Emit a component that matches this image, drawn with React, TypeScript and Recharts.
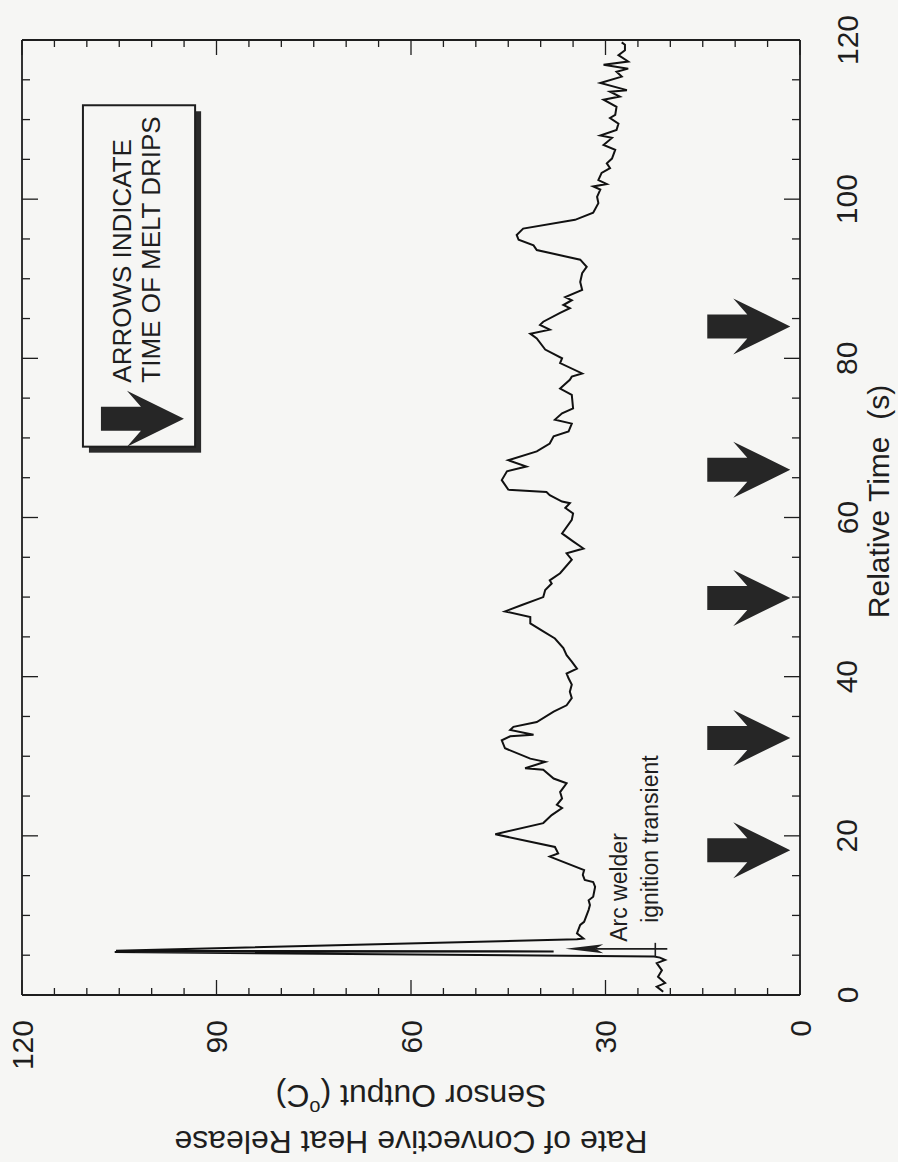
import React from "react";
import { LineChart, Line, XAxis, YAxis, ReferenceDot, ReferenceArea } from "recharts";

// time (s) and sensor output (°C)
const TIME = [
  0.4, 1.05, 1.5, 2.3, 3.1, 4.0, 4.4, 4.7, 4.85, 5.4,
  5.48, 5.53, 5.57, 7.0, 7.1, 7.75, 8.8, 9.2, 10.7, 11.3,
  11.9, 12.35, 13.6, 14.2, 14.45, 15.1, 15.7, 17.2, 17.4, 17.8,
  18.6, 20.2, 21.6, 22.6, 23.5, 23.9, 24.7, 25.5, 26.6, 27.2,
  28.3, 28.5, 29.3, 29.7, 31.0, 32.0, 32.5, 32.7, 33.3, 33.7,
  34.3, 35.6, 36.4, 37.3, 38.1, 39.0, 39.8, 40.4, 41.0, 41.9,
  42.7, 43.6, 44.8, 45.7, 46.7, 47.5, 48.2, 49.0, 50.0, 50.9,
  51.7, 52.1, 53.0, 54.7, 55.5, 56.1, 57.0, 58.0, 59.7, 60.5,
  61.2, 61.8, 62.0, 62.8, 63.2, 63.5, 64.7, 65.8, 66.4, 67.2,
  68.3, 69.3, 70.2, 70.8, 71.8, 72.3, 73.1, 73.7, 75.4, 76.2,
  77.3, 77.7, 78.1, 79.4, 80.0, 81.1, 82.5, 83.1, 83.6, 84.2,
  84.6, 85.7, 86.3, 86.7, 87.3, 87.7, 88.6, 89.6, 90.7, 91.5,
  92.4, 93.6, 94.2, 94.9, 95.5, 96.3, 97.4, 98.3, 99.5, 100.3,
  101.2, 101.6, 101.9, 102.4, 103.3, 103.9, 104.5, 105.1, 106.2, 106.8,
  107.7, 108.0, 108.7, 109.5, 110.2, 110.6, 111.6, 112.5, 112.9, 113.5,
  113.7, 114.6, 115.4, 116.0, 116.4, 116.9, 117.3, 118.1, 118.7, 119.4,
  119.7,
];
const OUTPUT = [
  21.1, 22.1, 20.8, 21.9, 21.3, 22.1, 20.8, 21.6, 22.5, 105.7,
  38, 99, 105.5, 34.4, 33.4, 34.4, 33.9, 33.3, 32.6, 32.4,
  32.6, 31.9, 31.6, 31.9, 33.2, 33.5, 33.3, 38.0, 38.6, 37.3,
  37.8, 47.0, 39.6, 38.3, 36.7, 37.5, 36.7, 37.0, 36.0, 38.0,
  39.6, 42.4, 39.3, 41.6, 45.5, 46.0, 44.7, 41.1, 44.7, 44.2,
  40.6, 38.0, 36.0, 35.2, 35.5, 35.2, 35.7, 36.0, 34.4, 35.2,
  36.0, 36.5, 37.8, 39.6, 41.6, 41.6, 45.5, 42.9, 39.6, 39.3,
  38.3, 38.6, 37.0, 35.2, 36.0, 33.4, 35.0, 36.7, 35.2, 35.0,
  36.2, 35.5, 36.7, 38.6, 39.1, 45.0, 46.0, 45.2, 42.2, 45.0,
  40.6, 38.6, 38.0, 35.7, 35.2, 37.8, 36.7, 35.0, 35.2, 37.0,
  35.5, 35.2, 33.6, 37.0, 36.7, 39.3, 40.6, 41.6, 38.6, 40.1,
  39.6, 37.0, 35.5, 36.5, 35.2, 36.2, 33.6, 33.9, 33.6, 32.9,
  33.9, 40.6, 41.1, 43.4, 43.7, 42.7, 34.7, 31.9, 31.1, 31.3,
  30.8, 31.9, 29.8, 31.1, 30.6, 29.3, 29.8, 29.0, 28.5, 30.3,
  29.0, 30.8, 28.3, 28.0, 29.3, 28.5, 28.3, 30.3, 27.8, 29.3,
  26.7, 30.8, 27.5, 28.3, 26.5, 30.3, 26.5, 28.0, 27.0, 27.0,
  27.5,
];

// melt drips (s)
const DRIP_TIMES = [18.2, 32.3, 49.9, 66.0, 84.0];

const TIME_TICKS = [0, 5, 10, 15, 20, 25, 30, 35, 40, 45, 50, 55, 60, 65, 70, 75, 80, 85, 90, 95, 100, 105, 110, 115, 120];
const TIME_LABELS = [0, 20, 40, 60, 80, 100, 120];
const OUTPUT_TICKS = [0, 5, 10, 15, 20, 25, 30, 35, 40, 45, 50, 55, 60, 65, 70, 75, 80, 85, 90, 95, 100, 105, 110, 115, 120];
const OUTPUT_LABELS = [0, 30, 60, 90, 120];

const data = TIME.map((t, i) => ({ t, v: OUTPUT[i] }));

// placement of the extras, in axis units
const ARROW_TIP_OUTPUT = 1.5;
const LEGEND_OUTPUT = [110.6, 93.3];
const LEGEND_TIME = [68.9, 111.8];
const NOTE_OUTPUT = 36.2;
const NOTE_TIME = 5.8;

const FONT = "'Liberation Sans', Arial, Helvetica, sans-serif";
const INK = "#1e1e1e";
const PAPER = "#f6f6f4";

const arrowPath = (tx: number, ty: number) =>
  `M${tx - 83},${ty - 12} L${tx - 43},${ty - 12} L${tx - 57},${ty - 28} L${tx},${ty} ` +
  `L${tx - 57},${ty + 28} L${tx - 43},${ty + 12} L${tx - 83},${ty + 12} Z`;

function DripArrow(props: any) {
  const { cx, cy } = props;
  return <path d={arrowPath(cx, cy)} fill="#262626" />;
}

function BottomTick({ x, y, payload }: any) {
  const major = OUTPUT_LABELS.includes(payload.value);
  const ly = y + 25;
  return (
    <g>
      <line x1={x} y1={y} x2={x} y2={y - (major ? 15 : 7)} stroke={INK} strokeWidth={1.3} />
      {major && (
        <text x={x} y={ly} transform={`rotate(-90 ${x} ${ly})`} textAnchor="end" dominantBaseline="central"
          fontSize={30} fill={INK} fontFamily={FONT}>
          {payload.value}
        </text>
      )}
    </g>
  );
}

function TopTick({ x, y, payload }: any) {
  const major = OUTPUT_LABELS.includes(payload.value);
  return <line x1={x} y1={y} x2={x} y2={y + (major ? 15 : 7)} stroke={INK} strokeWidth={1.3} />;
}

function RightTick({ x, y, payload }: any) {
  const major = TIME_LABELS.includes(payload.value);
  const lx = x + 47;
  return (
    <g>
      <line x1={x} y1={y} x2={x - (major ? 16 : 8)} y2={y} stroke={INK} strokeWidth={1.3} />
      {major && (
        <text x={lx} y={y} transform={`rotate(-90 ${lx} ${y})`} textAnchor="middle" dominantBaseline="central"
          fontSize={30} fill={INK} fontFamily={FONT}>
          {payload.value}
        </text>
      )}
    </g>
  );
}

function LeftTick({ x, y, payload }: any) {
  const major = TIME_LABELS.includes(payload.value);
  return <line x1={x} y1={y} x2={x + (major ? 16 : 8)} y2={y} stroke={INK} strokeWidth={1.3} />;
}

function OutputTitle(props: any) {
  const vb = props.viewBox || { x: 22, y: 995, width: 778, height: 60 };
  const cx = vb.x + vb.width / 2;
  const y1 = vb.y + 101;
  const y2 = vb.y + 147;
  return (
    <g fill={INK} fontFamily={FONT} fontSize={32} style={{ whiteSpace: "pre" }}>
      <text x={cx} y={y1} transform={`rotate(180 ${cx} ${y1})`} textAnchor="middle" dominantBaseline="central">
        {"Sensor Output  ("}
        <tspan fontSize={20} dy={-12}>o</tspan>
        <tspan dy={12}>C)</tspan>
      </text>
      <text x={cx} y={y2} transform={`rotate(180 ${cx} ${y2})`} textAnchor="middle" dominantBaseline="central">
        Rate of Convective Heat Release
      </text>
    </g>
  );
}

function TimeTitle(props: any) {
  const vb = props.viewBox || { x: 800, y: 40, width: 60, height: 955 };
  const x = vb.x + 78;
  const y = vb.y + vb.height / 2 - 16;
  return (
    <text x={x} y={y} transform={`rotate(-90 ${x} ${y})`} textAnchor="middle" dominantBaseline="central"
      fontSize={30} fill={INK} fontFamily={FONT} style={{ whiteSpace: "pre" }}>
      {"Relative Time  (s)"}
    </text>
  );
}

function LegendBox(props: any) {
  const { x, y, width, height } = props;
  const b1 = x + 48;
  const b2 = x + 77;
  const sy = y + height - 64;
  return (
    <g>
      <rect x={x + 6} y={y + 6} width={width} height={height} fill="#2a2a2a" />
      <rect x={x} y={y} width={width} height={height} fill={PAPER} stroke={INK} strokeWidth={2} />
      <g fontFamily={FONT} fontSize={26} fill={INK}>
        <text x={b1} y={sy} transform={`rotate(-90 ${b1} ${sy})`}>ARROWS INDICATE</text>
        <text x={b2} y={sy} transform={`rotate(-90 ${b2} ${sy})`}>TIME OF MELT DRIPS</text>
      </g>
      <path d={arrowPath(x + 101, y + height - 28)} fill="#262626" />
    </g>
  );
}

function IgnitionNote(props: any) {
  const { cx, cy } = props;
  const a = cx + 62;
  const b = cx + 93;
  return (
    <g>
      <line x1={cx + 30} y1={cy} x2={cx + 102} y2={cy} stroke={INK} strokeWidth={1.6} />
      <path d={`M${cx},${cy} L${cx + 38},${cy - 4.5} L${cx + 30},${cy} L${cx + 38},${cy + 4.5} Z`} fill={INK} />
      <line x1={cx + 90} y1={cy - 6} x2={cx + 90} y2={cy + 8} stroke={INK} strokeWidth={1.6} />
      <g fontFamily={FONT} fontSize={23} fill={INK}>
        <text x={a} y={cy - 7} transform={`rotate(-90 ${a} ${cy - 7})`}>Arc welder</text>
        <text x={b} y={cy - 26} transform={`rotate(-90 ${b} ${cy - 26})`}>ignition transient</text>
      </g>
    </g>
  );
}

export default function App() {
  return (
    <div style={{ position: "absolute", left: 0, top: 0, width: 898, height: 1162, background: PAPER }}>
      <LineChart
        width={898}
        height={1162}
        data={data}
        layout="vertical"
        margin={{ top: 39, right: 38, bottom: 107, left: 21 }}
      >
        <XAxis
          xAxisId="bottom"
          type="number"
          dataKey="v"
          orientation="bottom"
          domain={[0, 120]}
          allowDataOverflow
          reversed
          ticks={OUTPUT_TICKS}
          interval={0}
          height={60}
          tickSize={0}
          tickMargin={0}
          tickLine={false}
          axisLine={{ stroke: INK, strokeWidth: 1.8 }}
          tick={(p: any) => <BottomTick {...p} />}
          label={(p: any) => <OutputTitle {...p} />}
        />
        <XAxis
          xAxisId="top"
          type="number"
          dataKey="v"
          orientation="top"
          domain={[0, 120]}
          allowDataOverflow
          reversed
          ticks={OUTPUT_TICKS}
          interval={0}
          height={1}
          tickSize={0}
          tickMargin={0}
          tickLine={false}
          axisLine={{ stroke: INK, strokeWidth: 1.8 }}
          tick={(p: any) => <TopTick {...p} />}
        />
        <YAxis
          yAxisId="right"
          type="number"
          dataKey="t"
          orientation="right"
          domain={[0, 120]}
          allowDataOverflow
          reversed
          ticks={TIME_TICKS}
          interval={0}
          width={60}
          tickSize={0}
          tickMargin={0}
          tickLine={false}
          axisLine={{ stroke: INK, strokeWidth: 1.8 }}
          tick={(p: any) => <RightTick {...p} />}
          label={(p: any) => <TimeTitle {...p} />}
        />
        <YAxis
          yAxisId="left"
          type="number"
          dataKey="t"
          orientation="left"
          domain={[0, 120]}
          allowDataOverflow
          reversed
          ticks={TIME_TICKS}
          interval={0}
          width={1}
          tickSize={0}
          tickMargin={0}
          tickLine={false}
          axisLine={{ stroke: INK, strokeWidth: 1.8 }}
          tick={(p: any) => <LeftTick {...p} />}
        />
        <Line
          xAxisId="top"
          yAxisId="left"
          dataKey="v"
          stroke="none"
          dot={false}
          legendType="none"
          isAnimationActive={false}
        />
        <Line
          xAxisId="bottom"
          yAxisId="right"
          dataKey="v"
          type="linear"
          stroke="#111"
          strokeWidth={2}
          dot={false}
          isAnimationActive={false}
        />
        <ReferenceArea
          xAxisId="bottom"
          yAxisId="right"
          x1={LEGEND_OUTPUT[0]}
          x2={LEGEND_OUTPUT[1]}
          y1={LEGEND_TIME[0]}
          y2={LEGEND_TIME[1]}
          shape={(p: any) => <LegendBox {...p} />}
        />
        {DRIP_TIMES.map((t) => (
          <ReferenceDot
            key={t}
            xAxisId="bottom"
            yAxisId="right"
            x={ARROW_TIP_OUTPUT}
            y={t}
            shape={(p: any) => <DripArrow {...p} />}
          />
        ))}
        <ReferenceDot
          xAxisId="bottom"
          yAxisId="right"
          x={NOTE_OUTPUT}
          y={NOTE_TIME}
          shape={(p: any) => <IgnitionNote {...p} />}
        />
      </LineChart>
    </div>
  );
}
